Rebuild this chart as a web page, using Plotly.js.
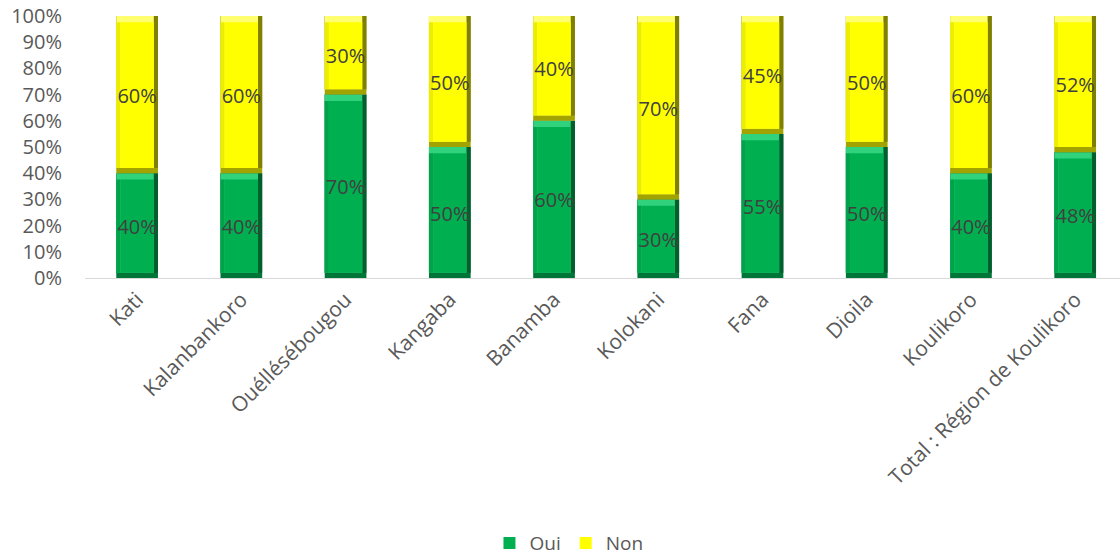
<!DOCTYPE html>
<html>
<head>
<meta charset="utf-8">
<script src="https://cdn.plot.ly/plotly-3.0.1.min.js"></script>
<style>
  html, body { margin: 0; padding: 0; background: #ffffff; }
  #chart { width: 1120px; height: 557px; }
</style>
</head>
<body>
<div id="chart"></div>
<script>
// Share of respondents answering "Oui" / "Non", by cercle
const categories = ['Kati', 'Kalanbankoro', 'Ouéllésébougou', 'Kangaba', 'Banamba',
  'Kolokani', 'Fana', 'Dioila', 'Koulikoro', 'Total : Région de Koulikoro'];
const oui = [0.40, 0.40, 0.70, 0.50, 0.60, 0.30, 0.55, 0.50, 0.40, 0.48];
const non = [0.60, 0.60, 0.30, 0.50, 0.40, 0.70, 0.45, 0.50, 0.60, 0.52];
const yTicks = [0, 0.1, 0.2, 0.3, 0.4, 0.5, 0.6, 0.7, 0.8, 0.9, 1.0];

const FONT = '"Open Sans", "Noto Sans", sans-serif';

// Bevelled bar styling (bar width in category units, bevel sizes)
const BAR_W = 0.4;
const EDGE_X = 0.04;       // side bevel width
const EDGE_BOTTOM = 0.02;  // bottom bevel height (axis units)
const EDGE_TOP = 0.024;    // top bevel height (axis units)

// Stacked segments drawn as overlaid bars: each segment starts where the previous ends
const nonBase = oui.slice();
const ouiBase = oui.map(() => 0);

function layer(name, base, values, color, opts) {
  return Object.assign({
    type: 'bar',
    name: name,
    legendgroup: name,
    showlegend: false,
    x: categories,
    base: base,
    y: values,
    width: BAR_W,
    offset: -BAR_W / 2,
    marker: { color: color, line: { width: 0 } },
    hoverinfo: 'skip',
    textposition: 'none'
  }, opts || {});
}

function bevelSeries(name, base, values, pal) {
  const innerBase = base.map(b => b + EDGE_BOTTOM);
  const innerH = values.map(v => v - EDGE_BOTTOM - EDGE_TOP);
  const upperH = values.map(v => v - EDGE_BOTTOM);
  return [
    // bottom rim
    layer(name, base, values, pal.bottom),
    // right rim
    layer(name, innerBase, upperH, pal.right, {}),
    // light top rim
    layer(name, innerBase, upperH, pal.light, { width: BAR_W - EDGE_X }),
    // left rim
    layer(name, innerBase, innerH, pal.left, { width: EDGE_X }),
    // face with value label
    layer(name, innerBase, innerH, pal.face, {
      showlegend: true,
      width: BAR_W - 2 * EDGE_X,
      offset: -BAR_W / 2 + EDGE_X,
      text: values.map(v => Math.round(v * 100) + '%'),
      texttemplate: '%{text}',
      textposition: 'inside',
      insidetextanchor: 'middle',
      textangle: 0,
      constraintext: 'none',
      textfont: { family: FONT, size: 20, color: '#404040' },
      marker: { color: pal.face, line: { width: 0 } }
    })
  ];
}

const data = [].concat(
  bevelSeries('Oui', ouiBase, oui,
    { face: '#00B050', light: '#30D27C', left: '#00A24A', right: '#005F2C', bottom: '#007538' }),
  bevelSeries('Non', nonBase, non,
    { face: '#FFFF00', light: '#FFFF70', left: '#EDED00', right: '#808000', bottom: '#A3A300' })
);

const layout = {
  width: 1120,
  height: 557,
  margin: { l: 85, r: 0, t: 16, b: 279, autoexpand: false },
  paper_bgcolor: '#ffffff',
  plot_bgcolor: '#ffffff',
  barmode: 'overlay',
  showlegend: true,
  legend: {
    orientation: 'h',
    traceorder: 'normal',
    xref: 'container', yref: 'container',
    x: 0.508, xanchor: 'center',
    y: 0.025, yanchor: 'middle',
    font: { family: FONT, size: 19, color: '#595959' },
    itemwidth: 30
  },
  xaxis: {
    type: 'category',
    range: [-0.5, 9.43],
    tickangle: -45,
    tickfont: { family: FONT, size: 21, color: '#595959' },
    showline: true,
    linecolor: '#D9D9D9',
    linewidth: 1,
    ticks: '',
    showgrid: false,
    zeroline: false,
    automargin: false
  },
  yaxis: {
    range: [0, 1],
    tickvals: yTicks,
    tickformat: '.0%',
    tickfont: { family: FONT, size: 20, color: '#595959' },
    showgrid: false,
    zeroline: false,
    showline: false,
    ticks: '',
    ticklabelstandoff: 22,
    automargin: false
  }
};

Plotly.newPlot('chart', data, layout, { displayModeBar: false, staticPlot: true });
</script>
</body>
</html>
